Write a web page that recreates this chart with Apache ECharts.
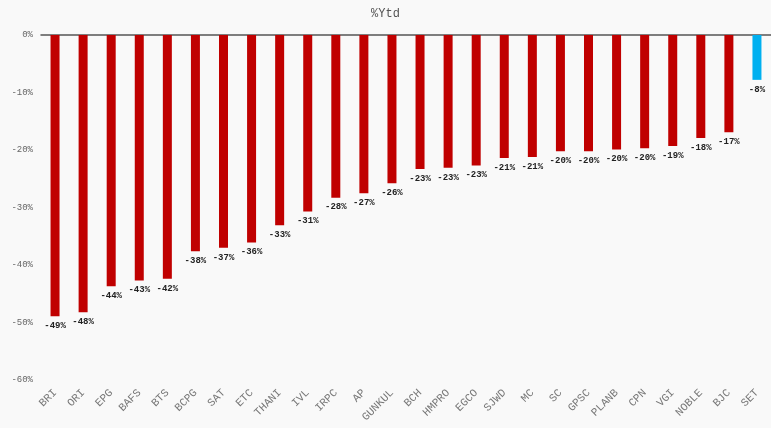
<!DOCTYPE html>
<html><head><meta charset="utf-8">
<script src="https://cdn.jsdelivr.net/npm/echarts@6/dist/echarts.min.js"></script>
<style>html,body{margin:0;padding:0;background:#f9f9f9}#c{width:771px;height:428px}</style>
</head><body><div id="c"></div>
<script>
const categories = ["BRI","ORI","EPG","BAFS","BTS","BCPG","SAT","ETC","THANI","IVL","IRPC","AP","GUNKUL","BCH","HMPRO","EGCO","SJWD","MC","SC","GPSC","PLANB","CPN","VGI","NOBLE","BJC","SET"];
const values = [-48.9,-48.2,-43.7,-42.7,-42.4,-37.6,-37.0,-36.1,-33.1,-30.7,-28.3,-27.5,-25.8,-23.3,-23.1,-22.7,-21.4,-21.2,-20.2,-20.2,-19.9,-19.7,-19.3,-17.9,-16.9,-7.8];
const highlight = "SET";
const font = "'Liberation Mono','DejaVu Sans Mono',monospace";
const chart = echarts.init(document.getElementById('c'));
chart.setOption({
  backgroundColor: '#f9f9f9',
  animation: false,
  title: {text: '%Ytd', left: 'center', top: 3, textStyle: {fontFamily: font, fontSize: 12, fontWeight: 'normal', color: '#555'}},
  grid: {left: 41, right: -3, top: 35, bottom: 48},
  xAxis: [{
    type: 'category', data: categories, position: 'bottom',
    axisLine: {show: false, onZero: false}, axisTick: {show: false},
    axisLabel: {rotate: 45, interval: 0, margin: 11, fontFamily: font, fontSize: 11, color: '#777'}
  },{
    type: 'category', data: categories, position: 'top',
    axisLine: {show: true, onZero: false, lineStyle: {color: '#555', width: 1.5}}, axisTick: {show: false}, axisLabel: {show: false}
  }],
  yAxis: {
    type: 'value', min: -60, max: 0, interval: 10,
    axisLine: {show: false}, axisTick: {show: false}, splitLine: {show: false},
    axisLabel: {formatter: v => v + '%', fontFamily: font, fontSize: 9, color: '#666', margin: 8}
  },
  series: [{
    type: 'bar', xAxisIndex: 0, barWidth: 9,
    data: values.map((v, i) => ({value: v, itemStyle: {color: categories[i] === highlight ? '#00b0f0' : '#c00000'}})),
    label: {show: true, position: 'bottom', distance: 5, formatter: p => Math.round(p.value) + '%', fontFamily: font, fontSize: 9, fontWeight: 'bold', color: '#222'}
  }]
});
</script></body></html>
